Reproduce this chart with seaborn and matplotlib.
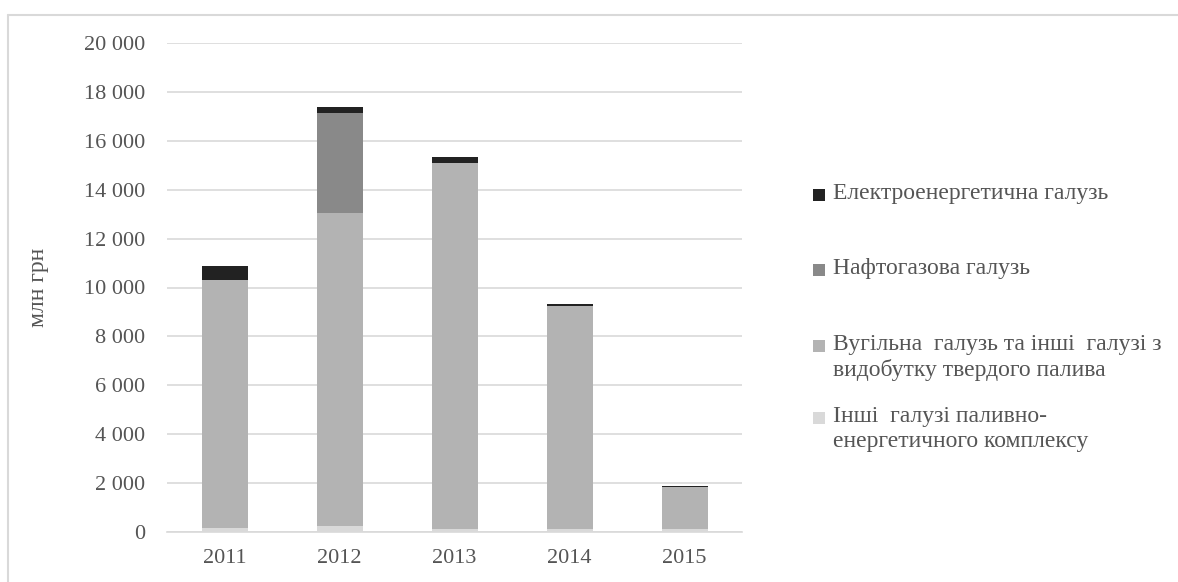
import numpy as np
import pandas as pd
import matplotlib
matplotlib.use("Agg")
import matplotlib.pyplot as plt
from matplotlib.ticker import FuncFormatter
from matplotlib.lines import Line2D
from matplotlib.patches import Rectangle
import seaborn as sns

# Data (млн грн)
years = ["2011", "2012", "2013", "2014", "2015"]
other_fuel = [165, 230, 110, 110, 110]          # Інші галузі ПЕК
coal = [10142, 12805, 14970, 9150, 1734]        # Вугільна галузь
oil_gas = [0, 4089, 0, 0, 0]                    # Нафтогазова галузь
electric = [583, 246, 245, 80, 50]              # Електроенергетична галузь

series_labels = [
    "Електроенергетична галузь",
    "Нафтогазова галузь",
    "Вугільна  галузь та інші  галузі з\nвидобутку твердого палива",
    "Інші  галузі паливно-\nенергетичного комплексу",
]
series_colors = ["#222222", "#898989", "#b3b3b3", "#d9d9d9"]

sns.set_theme(style="white")
plt.rcParams["font.family"] = ["Liberation Serif", "DejaVu Serif"]
text_color = "#555555"
grid_color = "#d9d9d9"

df = pd.DataFrame({
    "year": years,
    "other": other_fuel,
    "coal": coal,
    "oil": oil_gas,
    "electric": electric,
})
# cumulative tops of each stacked layer
df["lvl1"] = df["other"]
df["lvl2"] = df["lvl1"] + df["coal"]
df["lvl3"] = df["lvl2"] + df["oil"]
df["lvl4"] = df["lvl3"] + df["electric"]

fig = plt.figure(figsize=(11.78, 5.82), dpi=100)
ax = fig.add_axes([167 / 1178, 1 - 532 / 582, 575 / 1178, 489 / 582])

for col, color in zip(["lvl4", "lvl3", "lvl2", "lvl1"], series_colors):
    sns.barplot(data=df, x="year", y=col, color=color, width=0.4,
                saturation=1, edgecolor="none", linewidth=0, ax=ax, zorder=3)

ax.set_xlim(-0.5, 4.5)
ax.set_ylim(0, 20000)
ax.set_yticks(np.arange(0, 20001, 2000))
ax.yaxis.set_major_formatter(FuncFormatter(lambda v, p: f"{int(v):,}".replace(",", " ")))
ax.grid(axis="y", color=grid_color, linewidth=1.2, zorder=0)
ax.set_axisbelow(True)
for side in ["left", "right", "top"]:
    ax.spines[side].set_visible(False)
ax.spines["bottom"].set_color(grid_color)
ax.spines["bottom"].set_linewidth(1.2)
ax.spines["bottom"].set_zorder(4)
ax.tick_params(axis="y", length=0, pad=16, labelsize=16, labelcolor=text_color)
ax.tick_params(axis="x", length=0, pad=12, labelsize=16, labelcolor=text_color)
ax.set_xlabel("")
ax.set_ylabel("млн грн", fontsize=17, color=text_color)
ax.yaxis.set_label_coords(-0.205, 0.5)

# Legend: square markers with labels, first line aligned to the marker
legend_rows = [195, 270, 346, 418]
W, H = 1178, 582
for label, color, ypx in zip(series_labels, series_colors, legend_rows):
    fig.patches.append(Rectangle((813 / W, 1 - (ypx + 6) / H), 12 / W, 12 / H,
                                 transform=fig.transFigure, facecolor=color,
                                 edgecolor="none"))
    fig.text(833 / W, 1 - (ypx - 12) / H, label, fontsize=17, color=text_color,
             ha="left", va="top", linespacing=1.22)

# Light frame around the chart area
fig.lines.append(Line2D([8 / W, 8 / W], [0, 1 - 15 / H], transform=fig.transFigure,
                        color=grid_color, linewidth=1.5))
fig.lines.append(Line2D([8 / W, 1], [1 - 15 / H, 1 - 15 / H], transform=fig.transFigure,
                        color=grid_color, linewidth=1.5))

fig.savefig("out.png", dpi=100)
